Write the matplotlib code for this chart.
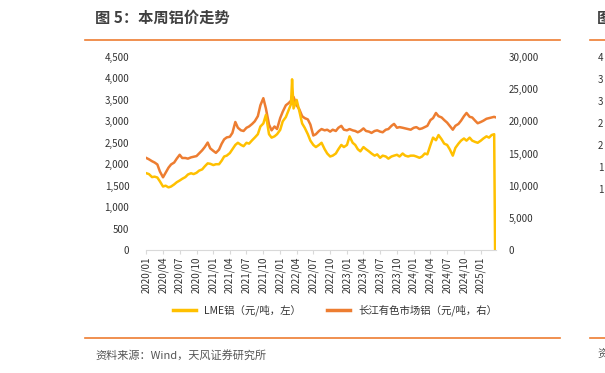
import matplotlib
matplotlib.use("Agg")
import matplotlib.pyplot as plt
import matplotlib.dates as mdates
from matplotlib.lines import Line2D
from matplotlib.ticker import FuncFormatter
import pandas as pd

plt.rcParams['font.family'] = ['Noto Sans CJK SC', 'DejaVu Sans']

# semi-monthly readings (1st and 15th), 2020/01 .. 2025/03
lme = [1790, 1770, 1700, 1710, 1690, 1600, 1480, 1500, 1460, 1480, 1530, 1580,
       1620, 1660, 1700, 1760, 1790, 1770, 1800, 1850, 1880, 1950, 2020, 2010,
       1980, 2000, 2000, 2080, 2180, 2200, 2260, 2350, 2450, 2500, 2450, 2420,
       2500, 2480, 2560, 2620, 2700, 2880, 2950, 3150, 2700, 2620, 2650, 2700,
       2800, 3000, 3100, 3250, 3400, 3300, 3500, 3250, 2950, 2850, 2700, 2550,
       2450, 2400, 2450, 2500, 2350, 2250, 2180, 2200, 2250, 2350, 2450, 2400,
       2450, 2650, 2500, 2450, 2350, 2300, 2400, 2350, 2300, 2250, 2200, 2230,
       2150, 2200, 2180, 2130, 2180, 2200, 2220, 2180, 2250, 2200, 2180, 2200,
       2200, 2180, 2150, 2180, 2250, 2230, 2450, 2620, 2560, 2680, 2580, 2480,
       2450, 2350, 2200, 2380, 2480, 2550, 2600, 2550, 2620, 2550, 2520, 2500,
       2550, 2600, 2650, 2620, 2680, 2700]
cj = [14300, 14100, 13800, 13600, 13300, 12200, 11300, 12000, 12800, 13300, 13600, 14200,
      14800, 14300, 14300, 14200, 14400, 14500, 14600, 15000, 15500, 16000, 16700, 15800,
      15400, 15100, 15600, 16500, 17200, 17500, 17600, 18200, 19900, 19000, 18600, 18500,
      19000, 19200, 19600, 20000, 20800, 22500, 23600, 22000, 19500, 18600, 19200, 18800,
      20500, 21500, 22500, 22800, 23200, 23800, 22500, 21900, 20800, 20500, 20300, 19500,
      17800, 18000, 18500, 18800, 18600, 18700, 18400, 18700, 18500, 19000, 19300, 18700,
      18600, 18800, 18600, 18500, 18300, 18500, 18900, 18500, 18400, 18200, 18500, 18600,
      18400, 18300, 18700, 18800, 19300, 19600, 19000, 19100, 19000, 18900, 18800, 18700,
      19000, 19100, 18800, 18900, 19100, 19300, 20200, 20500, 21300, 20800, 20600, 20200,
      19800, 19300, 18700, 19300, 19600, 20100, 20800, 21300, 20700, 20600, 20100, 19700,
      19900, 20100, 20400, 20500, 20600, 20700]
extra_dates = ['2022-03-07', '2025-03-20']
extra_lme = [3980, 0]
extra_cj = [23900, 20650]

dates = pd.date_range('2020-01-01', '2025-03-15', freq='SMS')
df = pd.DataFrame({'date': list(dates) + list(pd.to_datetime(extra_dates)),
                   'lme': lme + extra_lme, 'cj': cj + extra_cj}).sort_values('date')

yellow = '#FFC000'
orange = '#ED7D31'
tcol = '#333333'

fig = plt.figure(figsize=(6.05, 3.73), dpi=100)
ax = fig.add_axes([146/605, 1-250/373, 350/605, 193/373])
ax2 = ax.twinx()

ax2.plot(df['date'], df['cj'], color=orange, lw=1.8)
ax.plot(df['date'], df['lme'], color=yellow, lw=1.8)
ax.set_zorder(ax2.get_zorder() + 1)
ax.patch.set_visible(False)

ax.set_ylim(0, 4500)
ax.set_yticks(range(0, 4501, 500))
ax2.set_ylim(0, 30000)
ax2.set_yticks(range(0, 30001, 5000))
fmt = FuncFormatter(lambda v, p: f'{int(v):,}')
ax.yaxis.set_major_formatter(fmt)
ax2.yaxis.set_major_formatter(fmt)
ax.set_xlim(pd.Timestamp('2019-12-30'), pd.Timestamp('2025-03-25'))
ax.set_xticks(pd.date_range('2020-01-01', '2025-01-01', freq='QS'))
ax.xaxis.set_major_formatter(mdates.DateFormatter('%Y/%m'))

for a in (ax, ax2):
    for s in a.spines.values():
        s.set_visible(False)
ax.spines['bottom'].set_visible(True)
ax.spines['bottom'].set_color('#d9d9d9')
ax.tick_params(axis='x', labelrotation=90, labelsize=7, colors=tcol,
               length=3, color='#d9d9d9', pad=2)
ax.tick_params(axis='y', length=0, labelsize=7, colors=tcol, pad=12)
ax2.tick_params(axis='y', length=0, labelsize=7, colors=tcol, pad=9)

handles = [Line2D([], [], color=yellow, lw=2.5), Line2D([], [], color=orange, lw=2.5)]
fig.legend(handles, ['LME铝（元/吨，左）', '长江有色市场铝（元/吨，右）'],
           loc='center', bbox_to_anchor=(335/605, 1-310/373), ncol=2, frameon=False,
           fontsize=7.5, handlelength=2.2, columnspacing=2.5, labelcolor=tcol)

# header / footer
fig.text(95/605, 1-18/373, '图 5：本周铝价走势', fontsize=11, fontweight='bold',
         color='#404040', va='center', ha='left')
fig.add_artist(Line2D([85/605, 560/605], [1-40/373]*2, color=orange, lw=1.2))
fig.add_artist(Line2D([85/605, 560/605], [1-338/373]*2, color=orange, lw=1.2))
fig.text(95/605, 1-355/373, '资料来源：Wind，天风证券研究所', fontsize=8,
         color='#555555', va='center', ha='left')

# neighbouring chart cut off at the right edge
fig.text(597/605, 1-18/373, '图', fontsize=11, fontweight='bold', color='#404040', va='center')
fig.add_artist(Line2D([590/605, 1.0], [1-40/373]*2, color=orange, lw=1.2))
fig.add_artist(Line2D([590/605, 1.0], [1-338/373]*2, color=orange, lw=1.2))
fig.text(597/605, 1-355/373, '资', fontsize=8, color='#555555', va='center')
for yy, d in zip([58, 80, 102, 124, 146, 168, 190], '4332211'):
    fig.text(598/605, 1-yy/373, d, fontsize=7, color=tcol, va='center')

fig.savefig('out.png', dpi=100)
